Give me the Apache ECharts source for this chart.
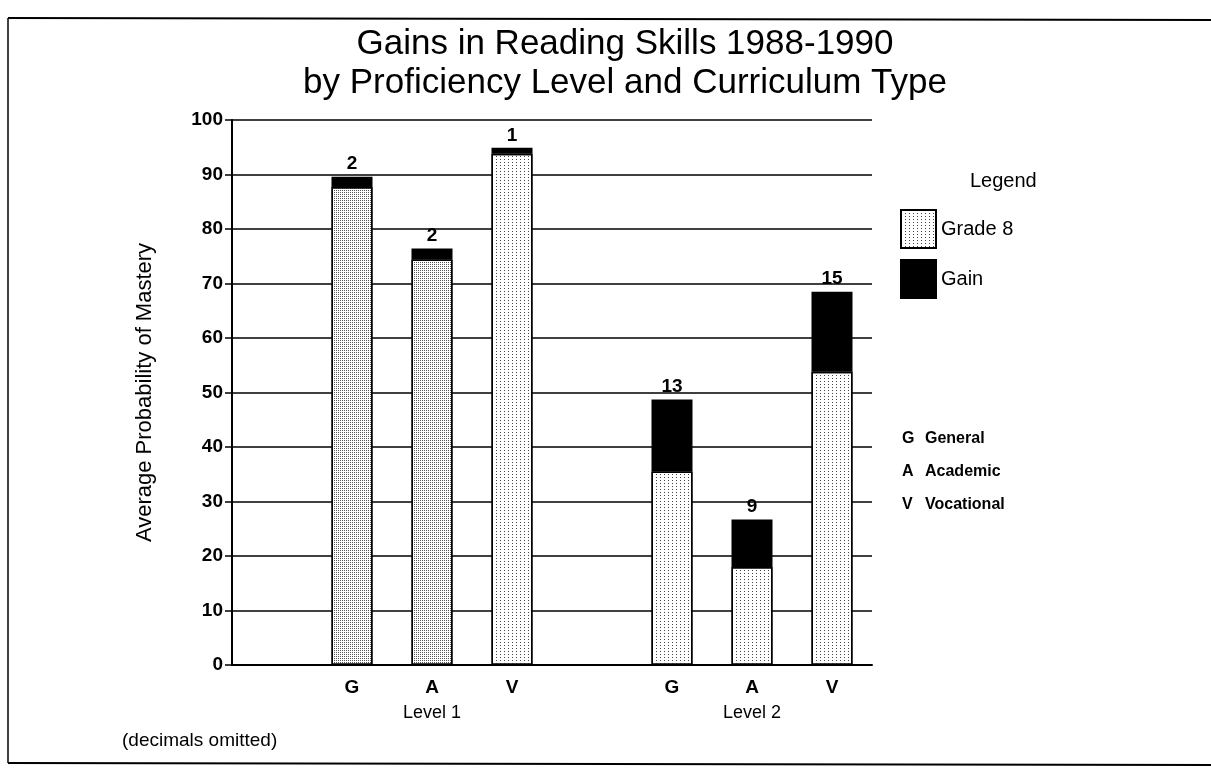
<!DOCTYPE html>
<html>
<head>
<meta charset="utf-8">
<script src="https://cdn.jsdelivr.net/npm/echarts@6/dist/echarts.min.js"></script>
<style>html,body{margin:0;padding:0;background:#fff}#c{width:1211px;height:781px}</style>
</head>
<body>
<div id="c"></div>
<script>
// ---- data ----
var categories = ['L1-sp', 'L1-G', 'L1-A', 'L1-V', 'L2-sp', 'L2-G', 'L2-A', 'L2-V'];
var tickLabels = ['', 'G', 'A', 'V', '', 'G', 'A', 'V'];
var levelLabels = ['', '', 'Level 1', '', '', '', 'Level 2', ''];
var grade8 = [null, 87.7, 74.4, 93.8, null, 35.5, 18.0, 53.8];
var gain = [null, 1.9, 2.0, 1.1, null, 13.2, 8.7, 14.7];
var gainLabels = ['', '2', '2', '1', '', '13', '9', '15'];
var yTicks = [0, 10, 20, 30, 40, 50, 60, 70, 80, 90, 100];
var curriculumKey = [['G', 'General'], ['A', 'Academic'], ['V', 'Vocational']];

var FONT = 'Liberation Sans, Arial, sans-serif';
var denseDecal = { symbol: 'rect', symbolSize: 1, dashArrayX: [1, 1], dashArrayY: [1, 1], color: '#555', rotation: 0 };
var lightDecal = { symbol: 'rect', symbolSize: 1, dashArrayX: [1, 3], dashArrayY: [1, 2], color: '#444', rotation: 0 };
var denseIdx = [1, 2];

var grade8Data = grade8.map(function (v, i) {
  return { value: v, itemStyle: { decal: denseIdx.indexOf(i) >= 0 ? denseDecal : lightDecal } };
});

var chart = echarts.init(document.getElementById('c'));
var graphics = [
  { type: 'line', shape: { x1: 8, y1: 18, x2: 1211, y2: 20 }, style: { stroke: '#000', lineWidth: 2 } },
  { type: 'line', shape: { x1: 8, y1: 18, x2: 8, y2: 763 }, style: { stroke: '#000', lineWidth: 1.5 } },
  { type: 'line', shape: { x1: 8, y1: 763, x2: 1211, y2: 765 }, style: { stroke: '#000', lineWidth: 2 } },
  { type: 'text', left: 970, top: 171, style: { text: 'Legend', font: '20px ' + FONT, fill: '#000' } },
  { type: 'text', left: 122, top: 731, style: { text: '(decimals omitted)', font: '19px ' + FONT, fill: '#000' } }
];
curriculumKey.forEach(function (k, i) {
  graphics.push({ type: 'text', left: 902, top: 431 + i * 33, style: { text: k[0], font: 'bold 16px ' + FONT, fill: '#000' } });
  graphics.push({ type: 'text', left: 925, top: 431 + i * 33, style: { text: k[1], font: 'bold 16px ' + FONT, fill: '#000' } });
});

chart.setOption({
  animation: false,
  backgroundColor: '#fff',
  title: {
    text: 'Gains in Reading Skills 1988-1990\nby Proficiency Level and Curriculum Type',
    left: 620, textAlign: 'center', top: 20,
    textStyle: { fontFamily: FONT, fontSize: 35, fontWeight: 'normal', color: '#000', lineHeight: 39 }
  },
  legend: {
    orient: 'vertical', left: 895, top: 204, itemWidth: 35, itemHeight: 38, itemGap: 10,
    icon: 'rect',
    textStyle: { fontFamily: FONT, fontSize: 20, color: '#000' },
    data: ['Grade 8', 'Gain'], selectedMode: false
  },
  grid: { left: 232, right: 339, top: 120, bottom: 116 },
  xAxis: {
    type: 'category', data: categories, boundaryGap: true,
    axisLine: { lineStyle: { color: '#000', width: 2 } },
    axisTick: { alignWithLabel: true, interval: 0, length: 8, lineStyle: { color: '#000', width: 1.5 } },
    axisLabel: {
      interval: 0, margin: 12, color: '#000',
      formatter: function (v, i) {
        var s = '{c|' + tickLabels[i] + '}';
        if (levelLabels[i]) s += '\n{l|' + levelLabels[i] + '}';
        return s;
      },
      rich: {
        c: { fontFamily: FONT, fontSize: 19, fontWeight: 'bold', color: '#000', lineHeight: 22 },
        l: { fontFamily: FONT, fontSize: 18, color: '#000', lineHeight: 28 }
      }
    }
  },
  yAxis: {
    type: 'value', min: 0, max: 100, interval: 10,
    name: 'Average Probability of Mastery', nameLocation: 'middle', nameGap: 76,
    nameTextStyle: { fontFamily: FONT, fontSize: 22, color: '#000' },
    axisLine: { show: true, lineStyle: { color: '#000', width: 2 } },
    axisTick: { show: true, length: 7, lineStyle: { color: '#000', width: 1.5 } },
    axisLabel: {
      margin: 9, color: '#000', fontFamily: FONT, fontSize: 19, fontWeight: 'bold',
      formatter: function (v) { return yTicks.indexOf(v) >= 0 ? String(v) : ''; }
    },
    splitLine: { lineStyle: { color: '#000', width: 1.5 } }
  },
  series: [
    {
      name: 'Grade 8', type: 'bar', stack: 'total', barWidth: 41, data: grade8Data,
      itemStyle: { color: '#fff', borderColor: '#000', borderWidth: 1.5, decal: lightDecal }
    },
    {
      name: 'Gain', type: 'bar', stack: 'total', barWidth: 41, data: gain,
      itemStyle: { color: '#000', borderColor: '#000', borderWidth: 1.5 },
      label: {
        show: true, position: 'top', distance: 3, color: '#000',
        fontFamily: FONT, fontSize: 19, fontWeight: 'bold',
        formatter: function (p) { return gainLabels[p.dataIndex]; }
      }
    }
  ],
  graphic: graphics
});
</script>
</body>
</html>
